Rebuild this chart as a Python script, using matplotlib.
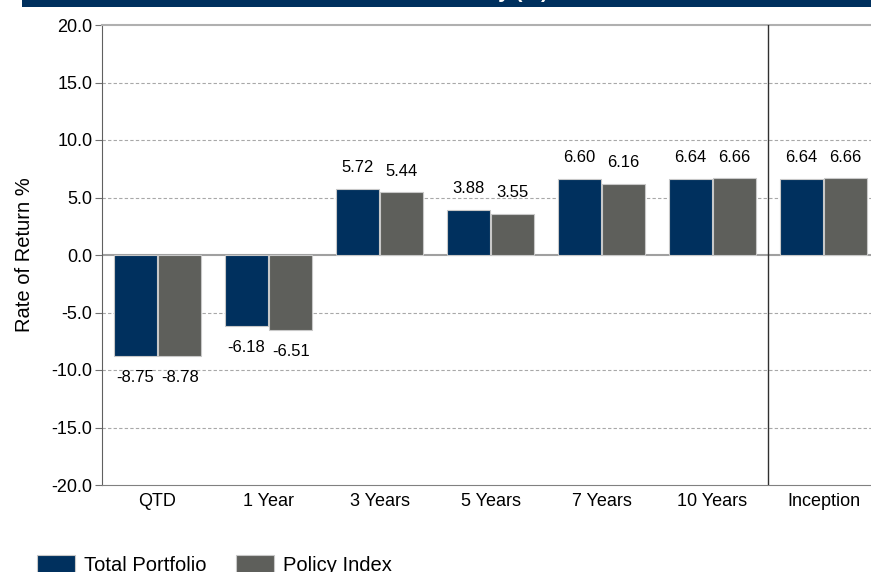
import numpy as np
import matplotlib.pyplot as plt
from matplotlib.patches import Patch, Rectangle

# data
periods = ['QTD', '1 Year', '3 Years', '5 Years', '7 Years', '10 Years', 'Inception']
total_portfolio = [-8.75, -6.18, 5.72, 3.88, 6.60, 6.64, 6.64]
policy_index = [-8.78, -6.51, 5.44, 3.55, 6.16, 6.66, 6.66]
yticks = [-20, -15, -10, -5, 0, 5, 10, 15, 20]

navy = '#00305e'
grey = '#5e5f5b'
narrow = ['Liberation Sans Narrow', 'Liberation Sans', 'DejaVu Sans']
regular = ['Liberation Sans', 'DejaVu Sans']

fig = plt.figure(figsize=(8.71, 5.72), dpi=100)

# banner at the top (mostly cropped in the original)
fig.patches.append(Rectangle((22/871, 1-7/572), 1, 7/572, transform=fig.transFigure,
                             facecolor=navy, edgecolor='none', zorder=0))
fig.text(548/871, 1+2.5/572, 'Total Fund Performance Summary (%)', color='white',
         ha='right', va='baseline', fontsize=15, family=regular, fontweight='bold')

ax = fig.add_axes([102/871, 1-485/572, 777/871, 460/572])
x = np.arange(len(periods))
w = 0.39
b1 = ax.bar(x-0.2, total_portfolio, w, color=navy, edgecolor='#c8c8c8', lw=0.8, zorder=3)
b2 = ax.bar(x+0.2, policy_index, w, color=grey, edgecolor='#c8c8c8', lw=0.8, zorder=3)

for bars, vals in [(b1, total_portfolio), (b2, policy_index)]:
    for b, v in zip(bars, vals):
        xc = b.get_x() + b.get_width()/2
        if v >= 0:
            ax.annotate('%.2f' % v, (xc, v), xytext=(0, 10), textcoords='offset points',
                        ha='center', va='bottom', fontsize=12, family=narrow)
        else:
            ax.annotate('%.2f' % v, (xc, v), xytext=(0, -10), textcoords='offset points',
                        ha='center', va='top', fontsize=12, family=narrow)

ax.set_xlim(-0.5, len(periods)-0.5)
ax.set_ylim(-20, 20)
ax.set_yticks(yticks)
ax.set_yticklabels(['%.1f' % t for t in yticks], fontsize=13, family=narrow)
ax.set_xticks(x)
ax.set_xticklabels(periods, fontsize=13, family=narrow)
ax.tick_params(axis='x', length=0, pad=6)
ax.tick_params(axis='y', length=5, color='#707070', pad=2)

for t in yticks:
    if t == 0:
        ax.axhline(0, color='#a0a0a0', lw=1.5, zorder=1)
    elif t not in (-20, 20):
        ax.axhline(t, color='#a8a8a8', lw=0.8, ls=(0, (3, 2)), zorder=1)

ax.axvline(5.5, color='#303030', lw=1, zorder=4)

ax.spines['right'].set_visible(False)
ax.spines['top'].set_color('#b0b0b0')
ax.spines['top'].set_linewidth(1.5)
ax.spines['left'].set_color('#606060')
ax.spines['bottom'].set_color('#808080')

ax.set_ylabel('Rate of Return %', fontsize=14.5, family=regular)
ax.yaxis.set_label_coords(-68/777, 0.5)

handles = [Patch(facecolor=navy, edgecolor='#c8c8c8', lw=0.8),
           Patch(facecolor=grey, edgecolor='#c8c8c8', lw=0.8)]
fig.legend(handles, ['Total Portfolio', 'Policy Index'], loc='upper left',
           bbox_to_anchor=(37/871, 1-555/572), ncol=2, frameon=False,
           prop={'family': regular, 'size': 14.5}, handlelength=1.9, handleheight=1.0,
           handletextpad=0.45, columnspacing=1.45, borderpad=0, borderaxespad=0)

fig.savefig('out.png', dpi=100)
